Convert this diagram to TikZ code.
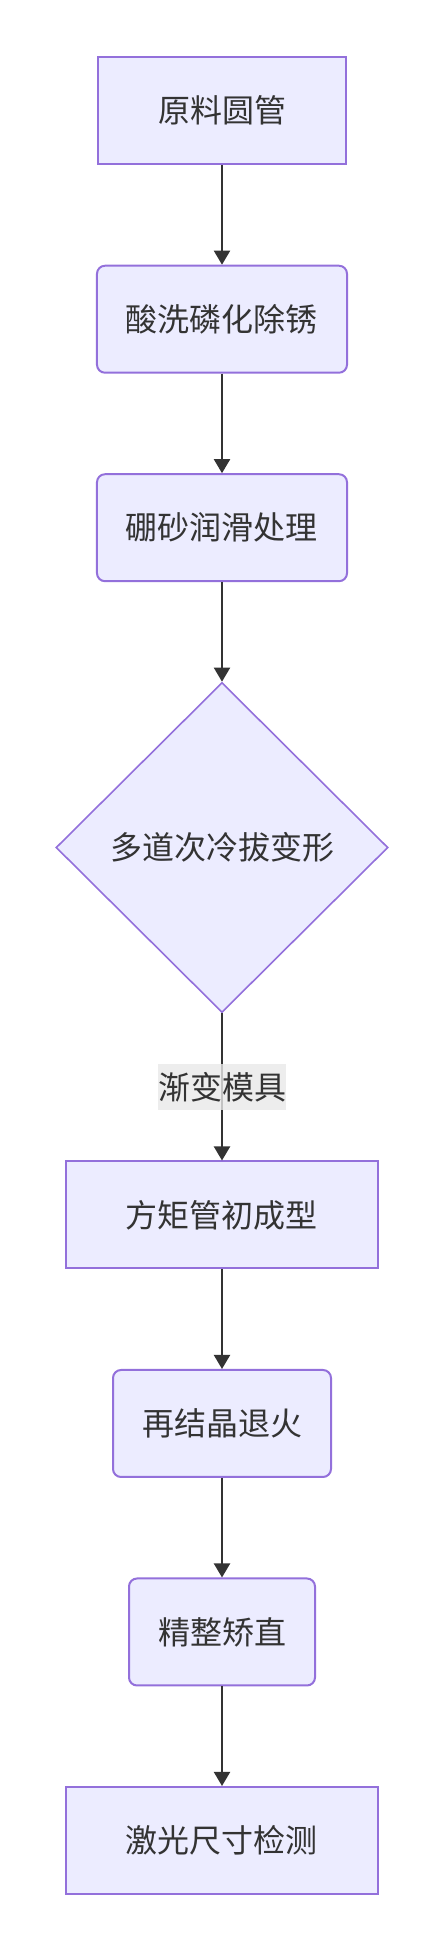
\documentclass[tikz,border=0pt]{standalone}
\usepackage{fontspec}
\newfontfamily\cjk{Noto Sans CJK SC}
\usepackage{tikz}
\usetikzlibrary{shapes.geometric,arrows.meta}
\definecolor{boxfill}{HTML}{ECECFF}
\definecolor{boxline}{HTML}{9370DB}
\definecolor{ink}{HTML}{333333}
\definecolor{labelbg}{HTML}{E8E8E8}

\begin{document}
\begin{tikzpicture}[
    box/.style={draw=boxline, fill=boxfill, line width=2pt, text=ink,
      minimum height=107pt, inner xsep=60pt, font=\cjk\fontsize{32}{38}\selectfont},
    soft/.style={box, rounded corners=8pt, inner xsep=29pt},
    choice/.style={box, shape=diamond, line width=1.6pt, inner sep=0pt, minimum width=332pt, minimum height=330pt},
    flow/.style={-{Triangle[width=16pt,length=14pt]}, line width=2pt, draw=ink},
    tag/.style={fill=labelbg, fill opacity=0.8, text opacity=1, text=ink, inner sep=0pt,
      minimum height=46pt, font=\cjk\fontsize{32}{38}\selectfont}
  ]
  \useasboundingbox (0,0) rectangle (444pt,-1948pt);
  \matrix [row sep=99.5pt, inner sep=0pt, anchor=north] at (222pt,-56pt) {
    \node (a) [box] {原料圆管}; \\
    \node (b) [soft] {酸洗磷化除锈}; \\
    \node (c) [soft] {硼砂润滑处理}; \\
    \node (d) [choice] {多道次冷拔变形}; \\[48pt]
    \node (e) [box] {方矩管初成型}; \\
    \node (f) [soft] {再结晶退火}; \\
    \node (g) [soft] {精整矫直}; \\
    \node (h) [box] {激光尺寸检测}; \\
  };
    \draw[flow] (a) -- (b);
    \draw[flow] (b) -- (c);
    \draw[flow] (c) -- (d);
    \draw[flow] (d) -- node (l) [tag] {渐变模具} (e);
    \draw[flow] (e) -- (f);
    \draw[flow] (f) -- (g);
    \draw[flow] (g) -- (h);
  \end{tikzpicture}
\end{document}
